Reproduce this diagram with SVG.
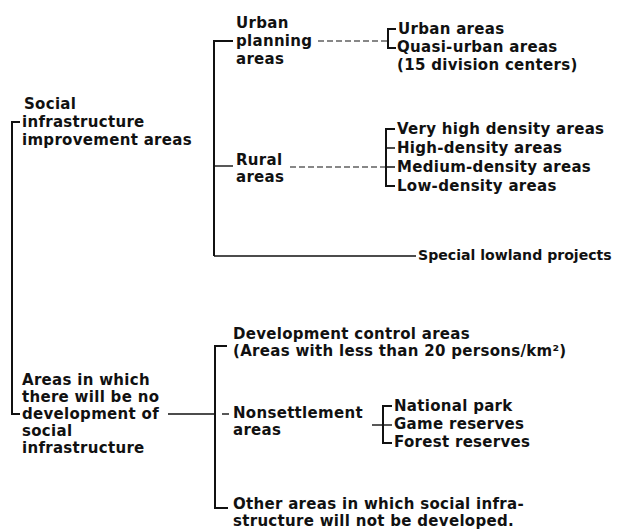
<svg xmlns="http://www.w3.org/2000/svg" width="619" height="529" viewBox="0 0 619 529">
<style>
text{font-family:"DejaVu Sans","Liberation Sans",sans-serif;font-weight:bold;font-size:15px;letter-spacing:0.3px;fill:#111}
text.narrow{font-size:14.1px;letter-spacing:0}
.br{stroke:#111;stroke-width:2;fill:none}
.ln{stroke:#111;stroke-width:1.4;fill:none}
.dash{stroke:#111;stroke-width:1.2;fill:none;stroke-dasharray:6 3}
</style>
<rect width="619" height="529" fill="#fff"/>
<g id="connectors">
  <path class="br" d="M20 122 H12 V414 H20"/>
  <path class="br" d="M233 41 H214 V256"/>
  <path class="ln" d="M214 166 H233"/>
  <path class="ln" d="M214 256 H416"/>
  <path class="dash" d="M318 41 H388"/>
  <path class="br" d="M396 29 H388 V48 H396"/>
  <path class="dash" d="M290 167 H386"/>
  <path class="br" d="M395 129 H386 V186 H395"/>
  <path class="ln" d="M386 148 H395 M386 167 H395"/>
  <path class="ln" d="M168 414 H215"/>
  <path class="br" d="M227 346 H215 V508 H228"/>
  <path class="ln" d="M222 414 H229"/>
  <path class="ln" d="M372 425 H383"/>
  <path class="br" d="M392 406 H383 V443 H392"/>
  <path class="ln" d="M383 425 H392"/>
</g>
<g id="n-social">
  <text x="24" y="109">Social</text>
  <text x="22" y="127">infrastructure</text>
  <text x="22" y="145">improvement areas</text>
</g>
<g id="n-urban-planning">
  <text x="236" y="28">Urban</text>
  <text x="236" y="46">planning</text>
  <text x="236" y="64">areas</text>
</g>
<g id="n-urban-areas"><text x="398" y="34">Urban areas</text></g>
<g id="n-quasi-urban">
  <text x="397" y="52">Quasi-urban areas</text>
  <text x="397" y="70">(15 division centers)</text>
</g>
<g id="n-rural">
  <text x="236" y="165">Rural</text>
  <text x="236" y="182">areas</text>
</g>
<g id="n-very-high"><text x="397" y="134">Very high density areas</text></g>
<g id="n-high"><text x="397" y="153">High-density areas</text></g>
<g id="n-medium"><text x="397" y="172">Medium-density areas</text></g>
<g id="n-low"><text x="397" y="191">Low-density areas</text></g>
<g id="n-special"><text class="narrow" x="418" y="260">Special lowland projects</text></g>
<g id="n-no-development">
  <text x="22" y="385">Areas in which</text>
  <text x="22" y="402">there will be no</text>
  <text x="22" y="419">development of</text>
  <text x="22" y="436">social</text>
  <text x="22" y="453">infrastructure</text>
</g>
<g id="n-dev-control">
  <text x="233" y="339">Development control areas</text>
  <text x="233" y="356">(Areas with less than 20 persons/km²)</text>
</g>
<g id="n-nonsettlement">
  <text x="233" y="418">Nonsettlement</text>
  <text x="233" y="435">areas</text>
</g>
<g id="n-national-park"><text x="394" y="411">National park</text></g>
<g id="n-game"><text x="394" y="429">Game reserves</text></g>
<g id="n-forest"><text x="394" y="447">Forest reserves</text></g>
<g id="n-other">
  <text x="233" y="509">Other areas in which social infra-</text>
  <text x="233" y="526">structure will not be developed.</text>
</g>
</svg>
